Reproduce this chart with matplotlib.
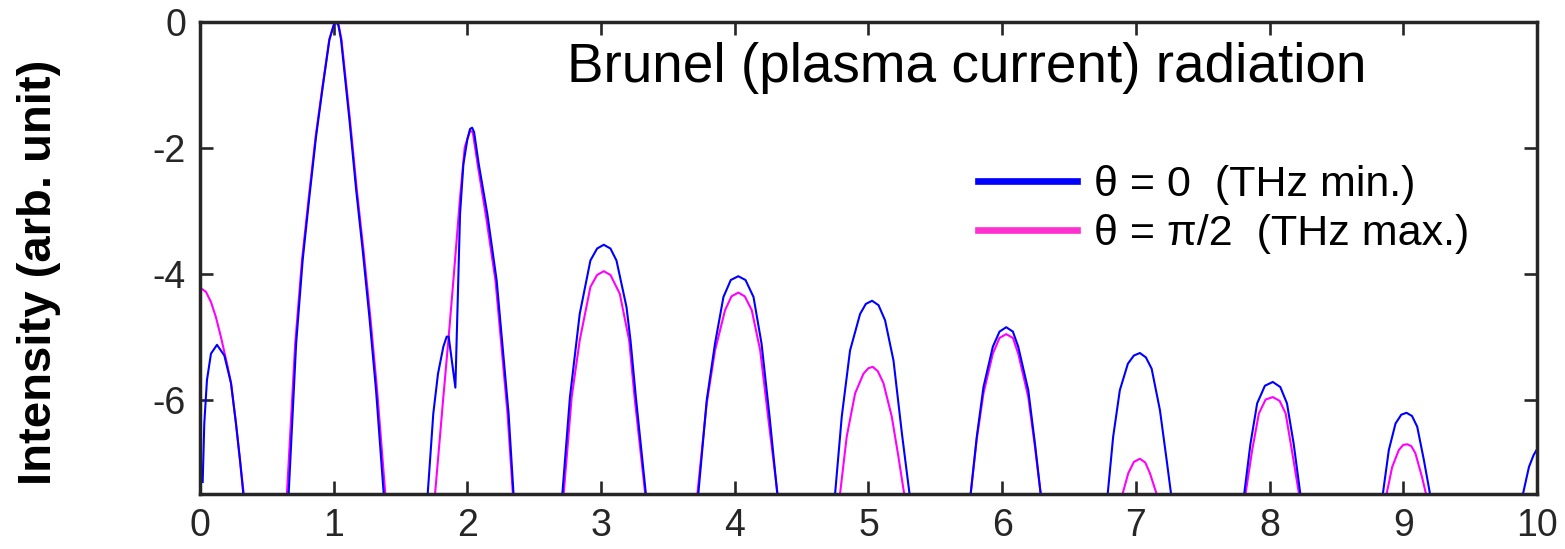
import matplotlib
matplotlib.use("Agg")
import matplotlib.pyplot as plt
from matplotlib.lines import Line2D
import numpy as np

plt.rcParams["font.family"] = ["Liberation Sans", "DejaVu Sans"]
plt.rcParams["axes.unicode_minus"] = False

nan = np.nan

# theta = 0 (THz min.), one list per lobe
blue_x = [
    0.02, 0.032, 0.052, 0.082, 0.127, 0.182, 0.232, 0.269, 0.299, 0.324, nan,
    0.663, 0.719, 0.768, 0.818, 0.868, 0.918, 0.968, 1.0, 1.018, 1.035, 1.055, 1.118, 1.168, 1.217, 1.267, 1.317, 1.374, nan,
    1.703, 1.745, 1.78, 1.82, 1.845, 1.86, 1.91, 1.925, 1.945, 1.97, 2.0, 2.02, 2.035, 2.05, 2.085, 2.149, 2.219, 2.263, 2.308, 2.345, nan,
    2.71, 2.767, 2.84, 2.92, 2.97, 3.02, 3.07, 3.115, 3.19, 3.22, 3.26, 3.335, nan,
    3.727, 3.79, 3.852, 3.915, 3.97, 4.026, 4.08, 4.14, 4.2, 4.26, 4.318, nan,
    4.75, 4.80, 4.862, 4.937, 4.98, 5.027, 5.075, 5.124, 5.187, 5.25, 5.307, nan,
    5.764, 5.81, 5.86, 5.93, 5.98, 6.03, 6.08, 6.12, 6.195, 6.245, 6.288, nan,
    6.789, 6.83, 6.88, 6.94, 6.985, 7.03, 7.075, 7.118, 7.18, 7.23, 7.263, nan,
    7.81, 7.857, 7.907, 7.965, 8.024, 8.08, 8.13, 8.18, 8.23, nan,
    8.847, 8.892, 8.942, 8.985, 9.024, 9.065, 9.104, 9.154, 9.2, nan,
    9.895, 9.94, 9.975, 10.0,
]
blue_y = [
    -7.31, -6.38, -5.69, -5.27, -5.13, -5.30, -5.74, -6.38, -6.96, -7.5, nan,
    -7.5, -5.11, -3.78, -2.78, -1.82, -1.03, -0.28, -0.05, 0.0, -0.05, -0.28, -1.56, -2.67, -3.63, -4.69, -5.86, -7.5, nan,
    -7.5, -6.22, -5.59, -5.16, -5.0, -5.0, -5.81, -4.64, -3.05, -2.26, -1.86, -1.70, -1.68, -1.75, -2.26, -3.05, -4.11, -5.16, -6.22, -7.5, nan,
    -7.5, -5.96, -4.64, -3.79, -3.60, -3.54, -3.60, -3.79, -4.53, -5.06, -5.96, -7.5, nan,
    -7.5, -6.01, -5.11, -4.37, -4.10, -4.04, -4.10, -4.37, -5.11, -6.27, -7.5, nan,
    -7.5, -6.27, -5.22, -4.64, -4.48, -4.43, -4.50, -4.74, -5.38, -6.54, -7.5, nan,
    -7.5, -6.59, -5.80, -5.16, -4.92, -4.85, -4.92, -5.16, -5.85, -6.70, -7.5, nan,
    -7.5, -6.59, -5.85, -5.43, -5.30, -5.26, -5.33, -5.51, -6.17, -6.96, -7.5, nan,
    -7.5, -6.70, -6.06, -5.78, -5.72, -5.80, -6.06, -6.70, -7.5, nan,
    -7.5, -6.80, -6.38, -6.24, -6.21, -6.26, -6.43, -6.96, -7.5, nan,
    -7.5, -7.07, -6.88, -6.79,
]

# theta = pi/2 (THz max.)
mag_x = [
    0.02, 0.045, 0.082, 0.119, 0.157, 0.207, 0.232, 0.269, 0.299, 0.327, nan,
    0.65, 0.712, 0.763, 0.814, 0.865, 0.916, 0.967, 1.0, 1.018, 1.037, 1.058, 1.122, 1.173, 1.223, 1.274, 1.325, 1.386, nan,
    1.758, 1.82, 1.86, 1.895, 1.945, 1.98, 2.02, 2.04, 2.08, 2.14, 2.21, 2.255, 2.30, 2.34, nan,
    2.72, 2.78, 2.84, 2.92, 2.97, 3.02, 3.07, 3.14, 3.21, 3.25, 3.33, nan,
    3.72, 3.79, 3.852, 3.927, 3.975, 4.026, 4.075, 4.127, 4.19, 4.255, 4.32, nan,
    4.787, 4.837, 4.9, 4.962, 5.0, 5.032, 5.07, 5.112, 5.174, 5.224, 5.267, nan,
    5.764, 5.81, 5.86, 5.93, 5.98, 6.03, 6.08, 6.12, 6.195, 6.245, 6.288, nan,
    6.90, 6.943, 6.985, 7.03, 7.07, 7.105, 7.155, nan,
    7.82, 7.87, 7.92, 7.97, 8.024, 8.075, 8.12, 8.17, 8.22, nan,
    8.875, 8.917, 8.967, 9.0, 9.03, 9.06, 9.09, 9.14, 9.17,
]
mag_y = [
    -4.25, -4.29, -4.45, -4.69, -5.01, -5.48, -5.74, -6.38, -6.96, -7.5, nan,
    -7.5, -5.11, -3.78, -2.78, -1.82, -1.03, -0.28, -0.05, 0.0, -0.05, -0.28, -1.56, -2.67, -3.63, -4.69, -5.86, -7.5, nan,
    -7.5, -5.96, -5.0, -4.11, -2.79, -1.99, -1.73, -1.75, -2.31, -3.10, -4.11, -5.16, -6.22, -7.5, nan,
    -7.5, -5.96, -5.06, -4.21, -4.02, -3.96, -4.02, -4.32, -5.06, -5.96, -7.5, nan,
    -7.5, -6.06, -5.22, -4.58, -4.36, -4.30, -4.36, -4.58, -5.22, -6.38, -7.5, nan,
    -7.5, -6.59, -5.90, -5.59, -5.50, -5.48, -5.55, -5.74, -6.27, -6.91, -7.5, nan,
    -7.5, -6.62, -5.90, -5.27, -5.02, -4.96, -5.02, -5.27, -5.96, -6.75, -7.5, nan,
    -7.5, -7.17, -6.99, -6.94, -7.00, -7.17, -7.5, nan,
    -7.5, -6.80, -6.22, -6.00, -5.96, -6.02, -6.22, -6.85, -7.5, nan,
    -7.5, -7.07, -6.80, -6.72, -6.71, -6.74, -6.85, -7.23, -7.5,
]

x_ticks = list(range(0, 11))
y_ticks = [-6, -4, -2, 0]
legend_labels = ["\u03b8 = 0  (THz min.)", "\u03b8 = \u03c0/2  (THz max.)"]
title_text = "Brunel (plasma current) radiation"
ylabel_text = "Intensity (arb. unit)"

axis_color = "#262626"

fig = plt.figure(figsize=(15.65, 5.49), dpi=100)
ax = fig.add_axes([0.1278, 0.1002, 0.8543, 0.8598])

ax.plot(mag_x, mag_y, color="#ff00ff", lw=1.5, zorder=2)
ax.plot(blue_x, blue_y, color="#0000ff", lw=1.5, zorder=3)

ax.set_xlim(0, 10)
ax.set_ylim(-7.5, 0)
ax.set_xticks(x_ticks)
ax.set_yticks(y_ticks)
ax.tick_params(direction="in", length=9.5, width=1.9, colors=axis_color,
               labelsize=27, top=True, right=True)
ax.tick_params(axis="x", pad=10)
ax.tick_params(axis="y", pad=10)
for spine in ax.spines.values():
    spine.set_linewidth(2.5)
    spine.set_color(axis_color)
    spine.set_zorder(5)

ax.set_ylabel(ylabel_text, fontsize=34, fontweight="bold")
ax.yaxis.set_label_coords(-0.104, 0.47)

ax.text(0.2745, 0.873, title_text, transform=ax.transAxes, fontsize=39.5,
        ha="left", va="baseline", color="black")

handles = [
    Line2D([], [], color="#0000ff", lw=4.8),
    Line2D([], [], color="#ff30d0", lw=4.8),
]
ax.legend(handles, legend_labels, loc="upper left", bbox_to_anchor=(0.582, 0.697),
          frameon=False, fontsize=31, handlelength=2.3, handletextpad=0.38,
          labelspacing=0.2, borderpad=0, borderaxespad=0)

fig.savefig("out.png", dpi=100)
